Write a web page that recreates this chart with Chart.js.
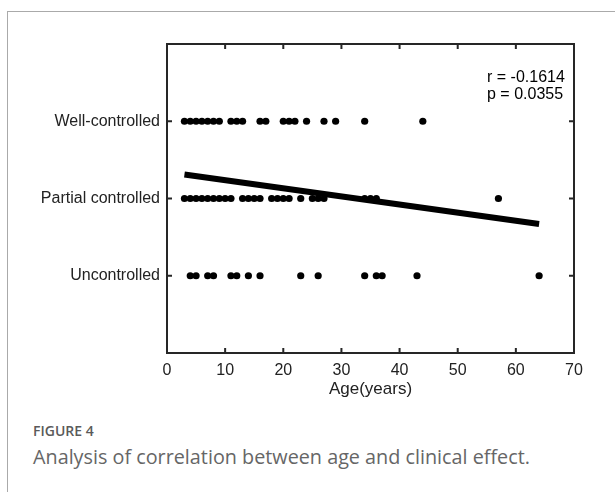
<!DOCTYPE html>
<html><head><meta charset="utf-8">
<script src="https://cdn.jsdelivr.net/npm/chart.js@4/dist/chart.umd.min.js"></script>
<style>
html,body{margin:0;padding:0;background:#fff;width:615px;height:492px;overflow:hidden;}
#frame{position:absolute;left:7px;top:11px;width:640px;height:520px;border-left:1px solid #aaa;border-top:1px solid #aaa;}
#wrap{position:absolute;left:0;top:0;width:615px;height:410px;}
.ann{position:absolute;left:487px;font-family:"Liberation Sans",Arial,sans-serif;font-size:16px;line-height:17px;color:#000;white-space:nowrap;}
#fig{position:absolute;left:33px;top:424px;font-family:"Open Sans",sans-serif;font-size:14px;line-height:14px;font-weight:600;color:#5a5a5a;white-space:nowrap;}
#cap{position:absolute;left:33px;top:447px;font-family:"Open Sans",sans-serif;font-size:19.8px;line-height:20px;color:#666;white-space:nowrap;}
</style></head>
<body>
<div id="frame"></div>
<div id="wrap"><canvas id="c" width="615" height="410"></canvas></div>
<div class="ann" style="top:68px">r = -0.1614</div>
<div class="ann" style="top:85px">p = 0.0355</div>
<div id="fig">FIGURE 4</div>
<div id="cap">Analysis of correlation between age and clinical effect.</div>
<script>
// Data
const categoryLabels = ['', 'Uncontrolled', 'Partial controlled', 'Well-controlled', ''];
const wellAges = [3,4,5,6,7,8,9,11,12,13,16,17,20,21,22,24,27,29,34,44];
const partialAges = [3,4,5,6,7,8,9,10,11,13,14,15,16,18,19,20,21,23,25,26,27,34,35,36,57];
const uncontrolledAges = [4,5,7,8,11,12,14,16,23,26,34,36,37,43,64];
const fitX = [3, 64];
const fitY = [2.31, 1.67];
const xTicks = [0,10,20,30,40,50,60,70];

const toPts = (ages, level) => ages.map(a => ({x: a, y: level}));
const font = "'Liberation Sans', Arial, sans-serif";

const framePlugin = {
  id: 'frame',
  afterDatasetsDraw(chart) {
    const {ctx, chartArea: a, scales} = chart;
    ctx.save();
    ctx.strokeStyle = '#262626';
    ctx.lineWidth = 2;
    ctx.strokeRect(a.left, a.top, a.right - a.left, a.bottom - a.top);
    const tl = 5;
    ctx.beginPath();
    xTicks.slice(1, -1).forEach(v => {
      const px = scales.x.getPixelForValue(v);
      ctx.moveTo(px, a.bottom); ctx.lineTo(px, a.bottom - tl);
      ctx.moveTo(px, a.top); ctx.lineTo(px, a.top + tl);
    });
    [1,2,3].forEach(v => {
      const py = scales.y.getPixelForValue(v);
      ctx.moveTo(a.left, py); ctx.lineTo(a.left + tl, py);
      ctx.moveTo(a.right, py); ctx.lineTo(a.right - tl, py);
    });
    ctx.stroke();
    ctx.restore();
  }
};

const dot = {showLine:false, pointRadius:3.6, pointHoverRadius:3.6, backgroundColor:'#000', borderColor:'#000', borderWidth:0, clip:false};

new Chart(document.getElementById('c'), {
  type: 'scatter',
  data: {
    datasets: [
      Object.assign({label:'Well-controlled', data: toPts(wellAges, 3)}, dot),
      Object.assign({label:'Partial controlled', data: toPts(partialAges, 2)}, dot),
      Object.assign({label:'Uncontrolled', data: toPts(uncontrolledAges, 1)}, dot),
      {type:'line', label:'fit', data: fitX.map((x,i)=>({x, y: fitY[i]})), borderColor:'#000', borderWidth:6, pointRadius:0, fill:false, order:-1}
    ]
  },
  options: {
    responsive: false,
    animation: false,
    events: [],
    layout: {padding: {top: 44, right: 41, left: 0, bottom: 0}},
    plugins: {legend: {display:false}, tooltip: {enabled:false}},
    scales: {
      x: {
        type: 'linear', min: 0, max: 70,
        grid: {display:false, drawTicks:false},
        border: {display:false},
        afterBuildTicks: s => { s.ticks = xTicks.map(v => ({value: v})); },
        afterFit: s => { s.height = 57; },
        ticks: {padding: 8, color:'#222', font: {family: font, size: 16}, maxRotation:0},
        title: {display:true, text:'Age(years)', color:'#222', font:{family: font, size: 17}, padding:{top:0, bottom:10}}
      },
      y: {
        type: 'linear', min: 0, max: 4,
        grid: {display:false, drawTicks:false},
        border: {display:false},
        afterBuildTicks: s => { s.ticks = [1,2,3].map(v => ({value: v})); },
        afterFit: s => { s.width = 167; },
        ticks: {padding: 7, color:'#222', font: {family: font, size: 16}, callback: v => categoryLabels[v]}
      }
    }
  },
  plugins: [framePlugin]
});
</script>
</body></html>
